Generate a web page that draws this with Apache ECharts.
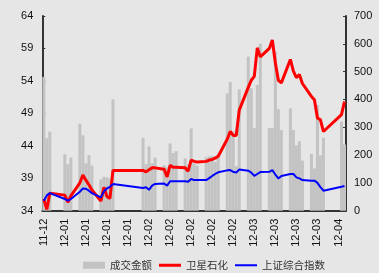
<!DOCTYPE html>
<html><head><meta charset="utf-8">
<script src="https://cdn.jsdelivr.net/npm/echarts@6/dist/echarts.min.js"></script>
<style>html,body{margin:0;padding:0;background:#e6e6e6;}#c{width:379px;height:273px;}</style>
</head><body><div id="c"></div>
<script>
// Calendar days 2011-12-28 .. 2012-04-06
const dates = [
"2011-12-28","2011-12-29","2011-12-30","2011-12-31",
"2012-01-01","2012-01-02","2012-01-03","2012-01-04","2012-01-05","2012-01-06","2012-01-07","2012-01-08","2012-01-09","2012-01-10",
"2012-01-11","2012-01-12","2012-01-13","2012-01-14","2012-01-15","2012-01-16","2012-01-17","2012-01-18","2012-01-19","2012-01-20",
"2012-01-21","2012-01-22","2012-01-23","2012-01-24","2012-01-25","2012-01-26","2012-01-27","2012-01-28","2012-01-29","2012-01-30","2012-01-31",
"2012-02-01","2012-02-02","2012-02-03","2012-02-04","2012-02-05","2012-02-06","2012-02-07","2012-02-08","2012-02-09","2012-02-10",
"2012-02-11","2012-02-12","2012-02-13","2012-02-14","2012-02-15","2012-02-16","2012-02-17","2012-02-18","2012-02-19","2012-02-20",
"2012-02-21","2012-02-22","2012-02-23","2012-02-24","2012-02-25","2012-02-26","2012-02-27","2012-02-28","2012-02-29",
"2012-03-01","2012-03-02","2012-03-03","2012-03-04","2012-03-05","2012-03-06","2012-03-07","2012-03-08","2012-03-09","2012-03-10",
"2012-03-11","2012-03-12","2012-03-13","2012-03-14","2012-03-15","2012-03-16","2012-03-17","2012-03-18","2012-03-19","2012-03-20",
"2012-03-21","2012-03-22","2012-03-23","2012-03-24","2012-03-25","2012-03-26","2012-03-27","2012-03-28","2012-03-29","2012-03-30","2012-03-31",
"2012-04-01","2012-04-02","2012-04-03","2012-04-04","2012-04-05","2012-04-06"
];
const N = null;
// 成交金额 (right axis)
const volume = [
481,260,284,N,N,N,N,
203,167,191,N,N,
313,271,170,200,162,N,N,
113,122,120,116,400,
N,N,N,N,N,N,N,N,N,
262,168,231,171,191,N,N,
163,156,242,207,214,N,N,
188,166,296,170,162,N,N,
192,195,197,176,202,N,N,
422,463,285,160,436,N,N,
554,440,297,452,600,N,N,
297,297,572,365,290,N,N,
368,290,235,250,180,N,N,
204,152,380,199,262,
N,N,N,N,N,
320,238
];
// 卫星石化 (left axis)
const stock = [
35.8,34.2,36.7,N,N,N,N,
36.4,35.3,36.3,N,N,
38.3,39.5,38.7,38.0,37.2,N,N,
35.5,37.6,36.2,35.9,40.2,
N,N,N,N,N,N,N,N,N,
40.2,40.0,40.3,40.6,40.6,N,N,
40.4,39.2,41.0,40.7,40.7,N,N,
40.6,40.1,41.8,41.6,41.5,N,N,
41.6,41.8,41.9,42.1,42.4,N,N,
45.0,46.2,45.6,45.6,49.5,N,N,
53.0,54.1,54.7,59.1,57.7,N,N,
59.0,60.3,56.8,54.1,53.7,N,N,
57.3,55.5,54.5,55.0,53.6,N,N,
51.6,51.1,48.3,48.0,46.2,
N,N,N,N,N,
48.8,50.8
];
// 上证综合指数 (right-axis scale)
const index = [
36,55,63,N,N,N,N,
42,36,42,N,N,
68,80,79,72,63,N,N,
48,70,80,86,96,
N,N,N,N,N,N,N,N,N,
82,84,75,90,96,N,N,
98,90,106,106,106,N,N,
106,104,114,110,110,N,N,
110,117,125,132,138,N,N,
145,146,140,137,148,N,N,
144,137,125,132,139,N,N,
140,146,130,116,125,N,N,
132,132,120,116,110,N,N,
108,108,100,85,72,
N,N,N,N,N,
86,89
];
const leftTicks = {min:34, max:64, step:5};
const rightTicks = {min:0, max:700, step:100};
const names = ["成交金额","卫星石化","上证综合指数"];

const thickIcon = 'path://M0,0L0.01,0L0.01,0.01ZM0,2L22,2L22,5L0,5ZM21.99,7L22,7L22,6.99Z';
const thinIcon = 'path://M0,0L0.01,0L0.01,0.01ZM0,2.5L22,2.5L22,4.5L0,4.5ZM21.99,7L22,7L22,6.99Z';

const chart = echarts.init(document.getElementById('c'), null, {renderer:'canvas'});
const axisCol = '#333';
chart.setOption({
  backgroundColor:'#e6e6e6',
  animation:false,
  grid:{left:42.3, right:33, top:16, bottom:62.3, containLabel:false},
  legend:{
    left:78, top:255, itemWidth:22, itemHeight:7, itemGap:7,
    textStyle:{fontSize:10.5, color:'#333', fontFamily:'Noto Sans CJK SC'},
    data:[{name:names[0], icon:'rect'},
          {name:names[1], icon:thickIcon, itemStyle:{color:'#ff0000'}},
          {name:names[2], icon:thinIcon, itemStyle:{color:'#0000ff'}}]
  },
  xAxis:{
    type:'category', data:dates, boundaryGap:true,
    axisLine:{lineStyle:{color:axisCol, width:2}},
    axisTick:{inside:true, interval:6, length:3, lineStyle:{color:axisCol, width:1}},
    axisLabel:{interval:6, rotate:90, fontSize:11, color:'#111', margin:8,
      fontFamily:'Liberation Sans', formatter:v=>v.slice(2,7)},
    splitLine:{show:false}
  },
  yAxis:[
    {type:'value', min:leftTicks.min, max:leftTicks.max, interval:leftTicks.step,
     axisLine:{show:true, lineStyle:{color:axisCol, width:2}},
     axisTick:{show:true, inside:true, length:3, lineStyle:{color:axisCol}},
     axisLabel:{fontSize:11, color:'#111', margin:9, fontFamily:'Liberation Sans'},
     splitLine:{show:false}},
    {type:'value', min:rightTicks.min, max:rightTicks.max, interval:rightTicks.step, position:'right',
     axisLine:{show:true, lineStyle:{color:axisCol, width:2}},
     axisTick:{show:true, inside:true, length:3, lineStyle:{color:axisCol}},
     axisLabel:{fontSize:11, color:'#111', margin:8, fontFamily:'Liberation Sans'},
     splitLine:{show:false}}
  ],
  series:[
    {name:names[0], type:'bar', yAxisIndex:1, data:volume, barCategoryGap:'0%',
     itemStyle:{color:'#c3c3c3'}},
    {name:names[1], type:'line', yAxisIndex:0, data:stock, connectNulls:true,
     symbol:'none', lineStyle:{color:'#ff0000', width:3}, itemStyle:{color:'#ff0000'}},
    {name:names[2], type:'line', yAxisIndex:1, data:index, connectNulls:true,
     symbol:'none', lineStyle:{color:'#0000ff', width:2}, itemStyle:{color:'#0000ff'}}
  ]
});
</script></body></html>
